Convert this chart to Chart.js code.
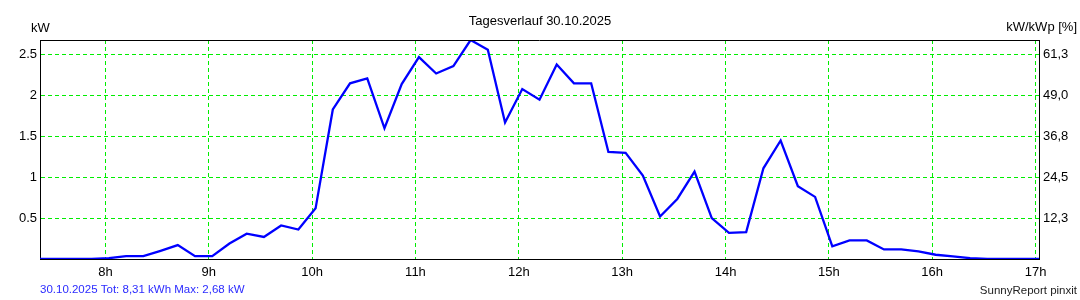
<!DOCTYPE html>
<html>
<head>
<meta charset="utf-8">
<script src="https://cdn.jsdelivr.net/npm/chart.js@4/dist/chart.umd.min.js"></script>
<style>
  body { margin: 0; background: #fff; }
</style>
</head>
<body>
<canvas id="myChart" width="1080" height="300"></canvas>
<script>
// readings every 10 minutes
var times = ['07:22','07:32','07:42','07:52','08:02','08:12','08:22','08:32','08:42','08:52',
  '09:02','09:12','09:22','09:32','09:42','09:52','10:02','10:12','10:22','10:32',
  '10:42','10:52','11:02','11:12','11:22','11:32','11:42','11:52','12:02','12:12',
  '12:22','12:32','12:42','12:52','13:02','13:12','13:22','13:32','13:42','13:52',
  '14:02','14:12','14:22','14:32','14:42','14:52','15:02','15:12','15:22','15:32',
  '15:42','15:52','16:02','16:12','16:22','16:32','16:42','16:52','17:02'];
var power = [0, 0, 0, 0, 0.01, 0.035, 0.035, 0.10, 0.17, 0.035,
  0.035, 0.19, 0.31, 0.27, 0.41, 0.36, 0.62, 1.83, 2.15, 2.21,
  1.60, 2.14, 2.47, 2.27, 2.36, 2.68, 2.56, 1.67, 2.08, 1.95,
  2.38, 2.15, 2.15, 1.31, 1.30, 1.02, 0.52, 0.735, 1.07, 0.50,
  0.32, 0.33, 1.11, 1.45, 0.89, 0.76, 0.155, 0.227, 0.227, 0.117,
  0.117, 0.093, 0.052, 0.032, 0.01, 0, 0, 0, 0];

var hourTicks = [8, 9, 10, 11, 12, 13, 14, 15, 16, 17];
var kwTicks = [0.5, 1, 1.5, 2, 2.5];
var pctLabels = ['12,3', '24,5', '36,8', '49,0', '61,3'];

var title = 'Tagesverlauf 30.10.2025';
var leftUnit = 'kW';
var rightUnit = 'kW/kWp [%]';
var footLeft = '30.10.2025 Tot: 8,31 kWh Max: 2,68 kW';
var footRight = 'SunnyReport pinxit';

function toHours(s) {
  var p = s.split(':');
  return +p[0] + (+p[1]) / 60;
}

var points = times.map(function (t, i) { return { x: toHours(t), y: power[i] }; });

var FONT = '"Liberation Sans", Arial, sans-serif';
var GREEN = '#00ee00';

// top frame line + the loose texts round the plot
var frameAndText = {
  id: 'frameAndText',
  afterDraw: function (chart) {
    var ctx = chart.ctx;
    var a = chart.chartArea;
    ctx.save();
    ctx.strokeStyle = '#000';
    ctx.lineWidth = 1;
    ctx.beginPath();
    ctx.moveTo(a.left, Math.round(a.top) + 0.5);
    ctx.lineTo(a.right, Math.round(a.top) + 0.5);
    ctx.stroke();

    ctx.fillStyle = '#000';
    ctx.font = '13px ' + FONT;
    ctx.textBaseline = 'alphabetic';
    ctx.textAlign = 'center';
    ctx.fillText(title, 540, 25);
    ctx.textAlign = 'left';
    ctx.fillText(leftUnit, 31, 32);
    ctx.textAlign = 'right';
    ctx.fillText(rightUnit, 1077, 31);

    ctx.font = '11.5px ' + FONT;
    ctx.fillStyle = '#2b2bff';
    ctx.textAlign = 'left';
    ctx.fillText(footLeft, 40, 293);
    ctx.fillStyle = '#222';
    ctx.textAlign = 'right';
    ctx.fillText(footRight, 1077, 294);
    ctx.restore();
  }
};

var myChart = document.getElementById('myChart').getContext('2d');
var chart = new Chart(myChart, {
  type: 'line',
  data: {
    datasets: [{
      data: points,
      borderColor: '#0000ff',
      borderWidth: 2.3,
      pointRadius: 0,
      tension: 0,
      fill: false
    }]
  },
  options: {
    responsive: false,
    animation: false,
    devicePixelRatio: 1,
    layout: { padding: { top: 40, left: 0, right: 0, bottom: 0 } },
    plugins: { legend: { display: false }, tooltip: { enabled: false } },
    scales: {
      x: {
        type: 'linear',
        min: toHours(times[0]),
        max: toHours(times[times.length - 1]),
        afterBuildTicks: function (s) { s.ticks = hourTicks.map(function (v) { return { value: v }; }); },
        afterFit: function (s) { s.height = 41; },
        ticks: {
          color: '#000',
          font: { family: FONT, size: 13 },
          padding: 6,
          maxRotation: 0,
          autoSkip: false,
          callback: function (v) { return v + 'h'; }
        },
        grid: { color: GREEN, drawTicks: false },
        border: { color: '#000', dash: [4, 3], display: true }
      },
      y: {
        position: 'left',
        min: 0,
        max: 2.68,
        afterBuildTicks: function (s) { s.ticks = kwTicks.map(function (v) { return { value: v }; }); },
        afterFit: function (s) { s.width = 40; },
        ticks: {
          color: '#000',
          font: { family: FONT, size: 13 },
          padding: 3,
          callback: function (v) { return String(v); }
        },
        grid: { color: GREEN, drawTicks: false },
        border: { color: '#000', dash: [4, 3] }
      },
      y2: {
        position: 'right',
        min: 0,
        max: 2.68,
        afterBuildTicks: function (s) { s.ticks = kwTicks.map(function (v) { return { value: v }; }); },
        afterFit: function (s) { s.width = 41; },
        ticks: {
          color: '#000',
          font: { family: FONT, size: 13 },
          padding: 4,
          callback: function (v, i) { return pctLabels[i]; }
        },
        grid: { display: false, drawTicks: false },
        border: { color: '#000' }
      }
    }
  },
  plugins: [frameAndText]
});
</script>
</body>
</html>
